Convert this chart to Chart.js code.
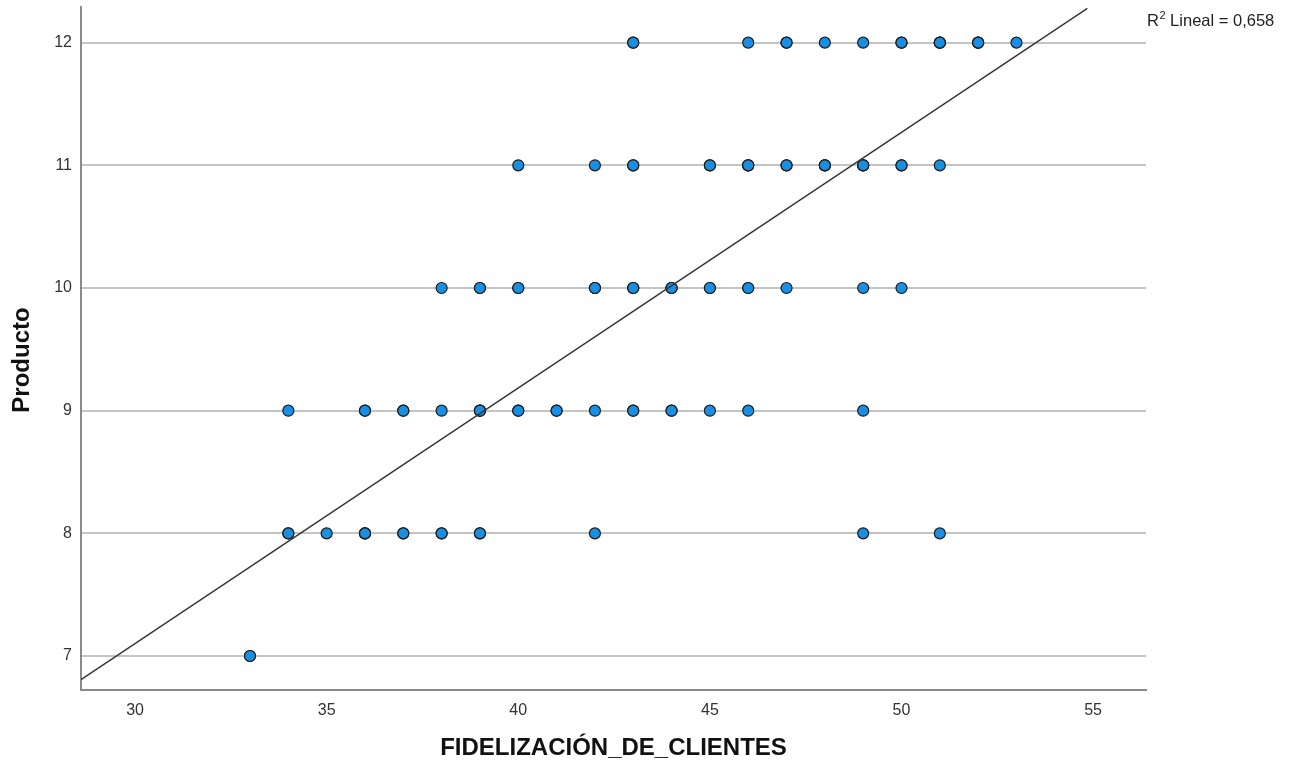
<!DOCTYPE html>
<html>
<head>
<meta charset="utf-8">
<script src="https://cdn.jsdelivr.net/npm/chart.js@4.4.1/dist/chart.umd.min.js"></script>
<style>
html,body{margin:0;padding:0;background:#fff;}
#c{display:block;}
</style>
</head>
<body>
<canvas id="c" width="1290" height="772"></canvas>
<script>
// FIDELIZACIÓN_DE_CLIENTES values observed at each Producto level (repeats = overlapping cases)
const producto12 = [43,43,46,47,47,48,49,50,50,51,51,51,52,52,52,53];
const producto11 = [40,42,43,43,45,45,46,46,46,47,47,48,48,48,49,49,49,50,50,51];
const producto10 = [38,39,39,40,40,42,42,42,43,43,43,44,44,44,45,45,46,46,47,49,50];
const producto9  = [34,36,36,37,37,38,39,39,39,40,40,41,41,42,43,43,44,44,45,46,49];
const producto8  = [34,34,35,36,36,36,37,37,38,38,39,39,42,49,51];
const producto7  = [33,33];
const productoLevels = [12,11,10,9,8,7];

// Linear fit line
const fitX = [28.59, 54.85];
const fitY = [6.808, 12.28];
const r2Label = "0,658";

const xTickValues = [30,35,40,45,50,55];
const yTickValues = [7,8,9,10,11,12];
const xTitle = "FIDELIZACIÓN_DE_CLIENTES";
const yTitle = "Producto";

const rows = [producto12, producto11, producto10, producto9, producto8, producto7];
const points = [];
rows.forEach((arr, i) => arr.forEach(v => points.push({x: v, y: productoLevels[i]})));
const fitPoints = fitX.map((x, i) => ({x, y: fitY[i]}));

const FONT = "'Liberation Sans', Arial, sans-serif";

const textPlugin = {
  id: 'texts',
  afterDraw(chart) {
    const ctx = chart.ctx;
    ctx.save();
    // R² label
    ctx.fillStyle = '#222';
    ctx.textBaseline = 'alphabetic';
    ctx.textAlign = 'left';
    let x = 1147, y = 26;
    ctx.font = "16.5px " + FONT;
    ctx.fillText("R", x, y);
    x += ctx.measureText("R").width;
    ctx.font = "11px " + FONT;
    ctx.fillText("2", x + 0.5, y - 7);
    x += ctx.measureText("2").width + 0.5;
    ctx.font = "16.5px " + FONT;
    ctx.fillText(" Lineal = " + r2Label, x, y);
    // Y axis title
    ctx.translate(22, 360);
    ctx.rotate(-Math.PI / 2);
    ctx.font = "bold 24px " + FONT;
    ctx.fillStyle = '#111';
    ctx.textAlign = 'center';
    ctx.textBaseline = 'middle';
    ctx.fillText(yTitle, 0, 0);
    ctx.restore();
  }
};

new Chart(document.getElementById('c'), {
  type: 'scatter',
  data: {
    datasets: [
      {
        type: 'line',
        data: fitPoints,
        borderColor: '#333333',
        borderWidth: 1.4,
        pointRadius: 0,
        fill: false,
        order: 0
      },
      {
        data: points,
        backgroundColor: '#188fe3',
        borderColor: '#1b1b1b',
        borderWidth: 1.2,
        pointRadius: 5.5,
        order: 1
      }
    ]
  },
  options: {
    responsive: false,
    animation: false,
    devicePixelRatio: 1,
    layout: {padding: {left: 0, right: 144, top: 6, bottom: 0}},
    plugins: {legend: {display: false}, tooltip: {enabled: false}},
    scales: {
      x: {
        type: 'linear',
        min: 28.59,
        max: 56.38,
        afterFit(s) { s.height = 82; s.paddingLeft = 0; s.paddingRight = 0; },
        afterBuildTicks(s) { s.ticks = xTickValues.map(v => ({value: v})); },
        grid: {display: false, drawTicks: false},
        border: {display: true, color: '#8a8a8a', width: 2},
        ticks: {padding: 11, color: '#333', font: {family: FONT, size: 16}, maxRotation: 0},
        title: {display: true, text: xTitle, color: '#111', font: {family: FONT, size: 24, weight: 'bold'}, padding: {top: 0, bottom: 9}}
      },
      y: {
        type: 'linear',
        min: 6.723,
        max: 12.293,
        afterFit(s) { s.width = 81; s.paddingTop = 0; s.paddingBottom = 0; },
        afterBuildTicks(s) { s.ticks = yTickValues.map(v => ({value: v})); },
        grid: {display: true, drawTicks: false, color: '#c4c4c4', lineWidth: 2},
        border: {display: true, color: '#8a8a8a', width: 2},
        ticks: {padding: 9, color: '#333', font: {family: FONT, size: 16}},
        title: {display: false, text: yTitle}
      }
    }
  },
  plugins: [textPlugin]
});
</script>
</body>
</html>
